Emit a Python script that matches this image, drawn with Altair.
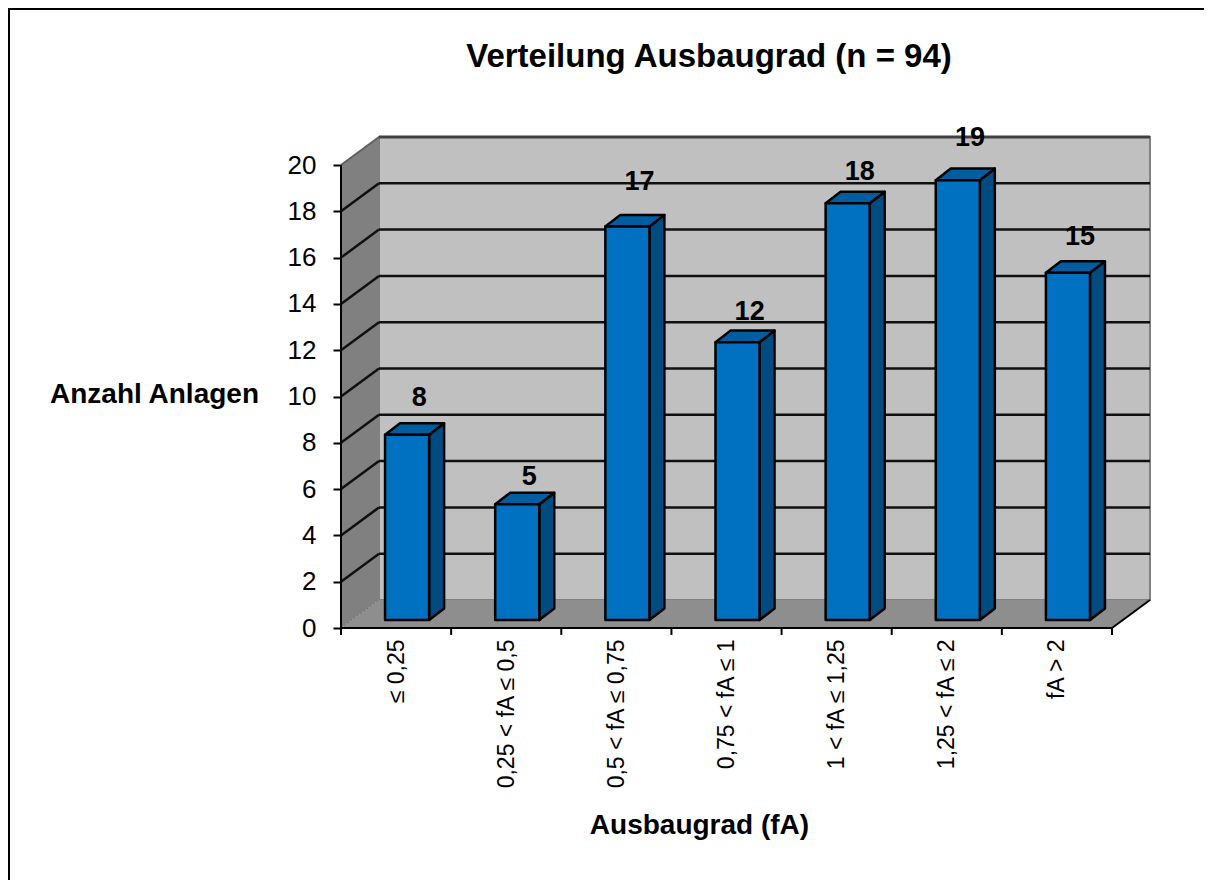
import altair as alt
import pandas as pd

categories = ["≤ 0,25", "0,25 < fA ≤ 0,5", "0,5 < fA ≤ 0,75", "0,75 < fA ≤ 1",
              "1 < fA ≤ 1,25", "1,25 < fA ≤ 2", "fA > 2"]
values = [8, 5, 17, 12, 18, 19, 15]
label_lift = [1.6, 1.17, 1.94, 1.3, 1.34, 1.81, 1.56]
y_ticks = list(range(0, 21, 2))
n = len(categories)

DX, DY = 0.345, 1.21          # depth of the box in data units
BAR_L, BAR_W, BAR_Y = 0.40, 0.40, 0.346
BDX, BDY = 0.136, 0.5         # depth of a bar
W, H = 809, 491
LEFT, TOP = 333, 129
FONT = "Liberation Sans"

xs = alt.Scale(domain=[0, n + DX], nice=False, zero=False)
ys = alt.Scale(domain=[0, 20 + DY], nice=False, zero=False)

expr = "[" + ",".join("'%s'" % c for c in categories) + "][floor(datum.value)]"
x_axis = alt.Axis(values=[i + 0.5 for i in range(n)], labelExpr=expr, ticks=False, domain=False, grid=False,
                  labelAngle=270, labelAlign="right", labelBaseline="middle", labelPadding=11,
                  labelFontSize=23, labelFont=FONT, labelColor="black", labelOverlap=False,
                  labelFlush=False, labelBound=False,
                  title="Ausbaugrad (fA)", titleFont=FONT, titleFontSize=28, titleFontWeight="bold",
                  titleColor="black", titleX=358, titleY=197, titleAlign="center", titleBaseline="middle")
y_axis = alt.Axis(values=y_ticks, format="d", ticks=True, tickSize=8, tickWidth=2, tickColor="black", domain=False,
                  grid=False, labelPadding=17, labelFontSize=26, labelFont=FONT, labelColor="black",
                  labelOverlap=False, labelFlush=False, labelBound=False,
                  title="Anzahl Anlagen", titleFont=FONT, titleFontSize=28, titleFontWeight="bold",
                  titleColor="black", titleAngle=0, titleX=-187, titleY=257, titleAlign="center",
                  titleBaseline="middle")


def X():
    return alt.X("x:Q", scale=xs, axis=x_axis)


def Y():
    return alt.Y("y:Q", scale=ys, axis=y_axis)


X2, Y2 = alt.X2("x2:Q"), alt.Y2("y2:Q")

# walls
back = alt.Chart(pd.DataFrame([{"x": DX, "x2": n + DX, "y": DY, "y2": 20 + DY}])).mark_rect(
    fill="#c0c0c0", stroke="#808080", strokeWidth=2).encode(X(), X2, Y(), Y2)
left = alt.Chart(pd.DataFrame([{"x": 0, "y": 0, "y2": 20}, {"x": DX, "y": DY, "y2": 20 + DY}])).mark_area(
    fill="#808080").encode(X(), Y(), Y2)
floor = alt.Chart(pd.DataFrame([{"y": 0, "x": 0, "x2": n}, {"y": DY, "x": DX, "x2": n + DX}])).mark_area(
    orient="horizontal", fill="#8e8e8e").encode(X(), X2, Y())

# grid lines
grid_rows = [t for t in y_ticks if 0 < t < 20]
grid_back = alt.Chart(pd.DataFrame([{"x": DX, "x2": n + DX, "y": t + DY} for t in grid_rows])).mark_rule(
    color="#101010", strokeWidth=2.5).encode(X(), X2, Y())
grid_side = alt.Chart(pd.DataFrame([r for t in grid_rows for r in (
    {"x": 0, "y": t, "k": t}, {"x": DX, "y": t + DY, "k": t})])).mark_line(
    color="#101010", strokeWidth=2.5).encode(X(), Y(), detail="k:N")
grey_side = alt.Chart(pd.DataFrame([{"x": 0, "y": 20, "k": 0}, {"x": DX, "y": 20 + DY, "k": 0}])).mark_line(
    color="#606060", strokeWidth=2).encode(X(), Y(), detail="k:N")
top_line = alt.Chart(pd.DataFrame([{"x": DX, "x2": n + DX, "y": 20 + DY}])).mark_rule(
    color="#404040", strokeWidth=3).encode(X(), X2, Y())
corner = alt.Chart(pd.DataFrame([{"x": 0, "y": 0, "k": 0}, {"x": DX, "y": DY, "k": 0}])).mark_line(
    color="#707070", strokeWidth=1, strokeDash=[2, 2]).encode(X(), Y(), detail="k:N")
floor_right = alt.Chart(pd.DataFrame([{"x": n, "y": 0, "k": 0}, {"x": n + DX, "y": DY, "k": 0}])).mark_line(
    color="black", strokeWidth=2).encode(X(), Y(), detail="k:N")

# axis lines and ticks
x_line = alt.Chart(pd.DataFrame([{"x": 0, "x2": n, "y": 0}])).mark_rule(color="black", strokeWidth=2).encode(
    X(), X2, Y())
y_line = alt.Chart(pd.DataFrame([{"x": 0, "y": 0, "y2": 20}])).mark_rule(color="black", strokeWidth=2).encode(
    X(), Y(), Y2)
x_ticks = alt.Chart(pd.DataFrame([{"x": i, "y": 0, "y2": -0.3} for i in range(n + 1)])).mark_rule(
    color="black", strokeWidth=2).encode(X(), Y(), Y2)

# bars
front_rows, side_rows, top_rows, label_rows = [], [], [], []
for i, v in enumerate(values):
    xl, xr, top = i + BAR_L, i + BAR_L + BAR_W, v + BAR_Y
    front_rows.append({"x": xl, "x2": xr, "y": BAR_Y, "y2": top})
    side_rows += [{"x": xr, "y": BAR_Y, "y2": top, "k": i},
                  {"x": xr + BDX, "y": BAR_Y + BDY, "y2": top + BDY, "k": i}]
    top_rows += [{"y": top, "x": xl, "x2": xr, "k": i},
                 {"y": top + BDY, "x": xl + BDX, "x2": xr + BDX, "k": i}]
    label_rows.append({"x": (xl + xr) / 2 + 0.11, "y": top + label_lift[i], "t": str(v)})

STROKE = dict(stroke="black", strokeWidth=2.5, strokeJoin="round")
side = alt.Chart(pd.DataFrame(side_rows)).mark_area(fill="#004c80", **STROKE).encode(X(), Y(), Y2, detail="k:N")
roof = alt.Chart(pd.DataFrame(top_rows)).mark_area(orient="horizontal", fill="#005ea0", **STROKE).encode(
    X(), X2, Y(), detail="k:N")
front = alt.Chart(pd.DataFrame(front_rows)).mark_rect(fill="#0070c0", **STROKE).encode(X(), X2, Y(), Y2)
labels = alt.Chart(pd.DataFrame(label_rows)).mark_text(
    font=FONT, fontSize=27, fontWeight="bold", color="black", baseline="middle", align="center").encode(
    X(), Y(), text="t:N")

# the image's frame: top and left edges only
frame_top = alt.Chart(pd.DataFrame([{"k": 0}])).mark_rule(color="black", strokeWidth=2).encode(
    x=alt.value(-LEFT), x2=alt.value(W + 60), y=alt.value(-TOP + 1))
frame_left = alt.Chart(pd.DataFrame([{"k": 0}])).mark_rule(color="black", strokeWidth=2).encode(
    x=alt.value(-LEFT + 1), y=alt.value(-TOP), y2=alt.value(H + 252))

# chart heading
heading = alt.Chart(pd.DataFrame([{"t": "Verteilung Ausbaugrad (n = 94)"}])).mark_text(
    font=FONT, fontSize=33, fontWeight="bold", color="black", baseline="middle", align="center").encode(
    x=alt.value(368), y=alt.value(-80), text="t:N")

chart = alt.layer(
    back, left, floor, grid_back, grid_side, grey_side, top_line, corner, floor_right,
    x_line, y_line, x_ticks, side, roof, front, labels, frame_top, frame_left, heading,
).properties(
    width=W, height=H,
    padding={"left": LEFT, "top": TOP, "right": 54, "bottom": 252},
    autosize=alt.AutoSizeParams(type="none"),
    background="white",
).configure_view(stroke=None)

chart.save("out.html", embed_options={"renderer": "svg", "actions": False})
